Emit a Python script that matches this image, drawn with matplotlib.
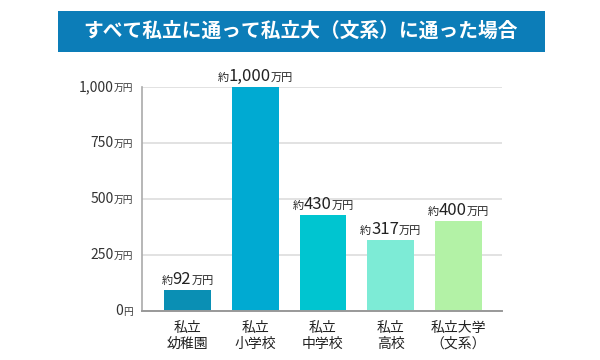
import matplotlib
matplotlib.use("Agg")
import matplotlib.pyplot as plt
from matplotlib.offsetbox import TextArea, HPacker, AnnotationBbox
from matplotlib.patches import Rectangle

plt.rcParams['font.family'] = ['Noto Sans CJK JP', 'DejaVu Sans']

title = "すべて私立に通って私立大（文系）に通った場合"
categories = ["私立\n幼稚園", "私立\n小学校", "私立\n中学校", "私立\n高校", "私立大学\n（文系）"]
values = [92, 1000, 430, 317, 400]
value_texts = ["92", "1,000", "430", "317", "400"]
colors = ["#0A8FB4", "#00AAD2", "#00C5D0", "#7DEBD6", "#B3F2A6"]
yticks = [0, 250, 500, 750, 1000]
ytick_nums = ["0", "250", "500", "750", "1,000"]
ytick_units = ["円", "万円", "万円", "万円", "万円"]

fig = plt.figure(figsize=(6, 3.6), dpi=100)
fig.patch.set_facecolor("white")

# Title banner
fig.patches.append(Rectangle((58/600, 1-52/360), (545-58)/600, 41/360,
                             transform=fig.transFigure, facecolor="#0C7DB8",
                             edgecolor="none", zorder=0))
fig.text(301/600, 1-31/360, title, ha="center", va="center", color="white",
         fontsize=14.2, fontweight="bold")

ax = fig.add_axes([142/600, 1-311/360, 360/600, 224/360])
x = list(range(len(values)))
ax.bar(x, values, width=0.69, color=colors, zorder=2)
ax.set_xlim(-0.672, 4.643)
ax.set_ylim(0, 1000)
ax.set_yticks(yticks)
ax.set_yticklabels([])
ax.set_xticks([])
ax.tick_params(axis="y", length=0)
ax.grid(axis="y", color="#DDDDDD", linewidth=1.2, zorder=0)
for s in ["top", "right"]:
    ax.spines[s].set_visible(False)
ax.spines["left"].set_color("#AAAAAA")
ax.spines["left"].set_linewidth(1.2)
ax.spines["bottom"].set_color("#999999")
ax.spines["bottom"].set_linewidth(1.4)
ax.spines["bottom"].set_zorder(3)

# y tick labels with small units
for v, n, u in zip(yticks, ytick_nums, ytick_units):
    box = HPacker(children=[
        TextArea(n, textprops=dict(fontsize=10, color="#333333")),
        TextArea(u, textprops=dict(fontsize=7, color="#333333")),
    ], align="baseline", pad=0, sep=0)
    ab = AnnotationBbox(box, (0, v), xycoords=ax.get_yaxis_transform(),
                        xybox=(-6.5, 0), boxcoords="offset points",
                        box_alignment=(1, 0.5), frameon=False, pad=0,
                        annotation_clip=False)
    ax.add_artist(ab)

# value labels
for xi, v, t in zip(x, values, value_texts):
    box = HPacker(children=[
        TextArea("約", textprops=dict(fontsize=8, color="#222222")),
        TextArea(t, textprops=dict(fontsize=12, color="#222222")),
        TextArea("万円", textprops=dict(fontsize=8, color="#222222")),
    ], align="baseline", pad=0, sep=0)
    ab = AnnotationBbox(box, (xi, v), xycoords="data",
                        xybox=(0, 1.5), boxcoords="offset points",
                        box_alignment=(0.5, 0), frameon=False, pad=0,
                        annotation_clip=False)
    ax.add_artist(ab)

# category labels
for xi, c in zip(x, categories):
    ax.text(xi, -0.045, c, transform=ax.get_xaxis_transform(), ha="center",
            va="top", fontsize=10, color="#222222", linespacing=1.15)

fig.savefig("out.png", dpi=100, facecolor="white")
